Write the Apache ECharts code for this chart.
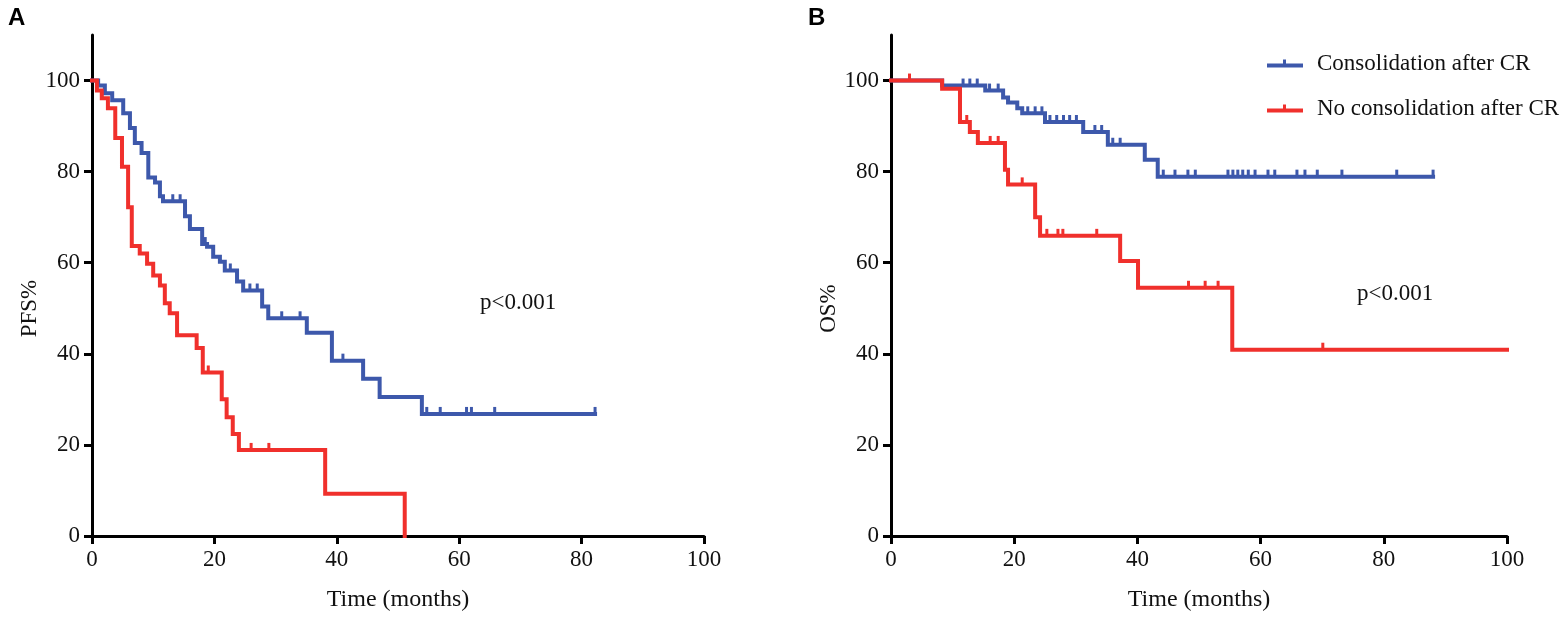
<!DOCTYPE html>
<html>
<head>
<meta charset="utf-8">
<script src="https://cdn.jsdelivr.net/npm/echarts@6/dist/echarts.min.js"></script>
<style>
html,body{margin:0;padding:0;background:#fff;}
#chart{width:1564px;height:617px;}
</style>
</head>
<body>
<div id="chart"></div>
<script>
// ---------- Data ----------
const seriesNames = ['Consolidation after CR', 'No consolidation after CR'];
const xTicks = [0, 20, 40, 60, 80, 100];
const yTicks = [0, 20, 40, 60, 80, 100];

// Panel A: PFS, consolidation after CR
const pfsConsTime = [0, 1, 2.1, 3.3, 5.1, 6.2, 7, 8.1, 9.2, 10.3, 11.1, 11.6, 15.2, 16, 18, 18.8, 19.8, 20.9, 21.7, 23.7, 24.7, 27.8, 28.8, 35.1, 39.2, 44.3, 47, 53.9, 82.2];
const pfsConsSurv = [100, 98.9, 97.2, 95.7, 92.8, 89.6, 86.3, 84.1, 78.7, 77.6, 74.6, 73.5, 70.2, 67.4, 64.1, 63.5, 61.3, 60.2, 58.3, 55.9, 53.9, 50.4, 47.8, 44.6, 38.5, 34.5, 30.5, 26.8, 26.8];
const pfsConsCensor = [13.2, 14.4, 18.5, 22.6, 25.8, 27, 31, 34, 41, 54.7, 56.9, 61.2, 62, 65.8, 82.2];

// Panel A: PFS, no consolidation after CR
const pfsNoTime = [0, 0.8, 1.6, 2.6, 3.8, 4.9, 5.9, 6.5, 7.8, 9, 10, 11.1, 11.9, 12.7, 13.9, 17.1, 18.1, 21.2, 22, 23, 24, 38.1, 51.1];
const pfsNoSurv = [100, 97.8, 96.1, 93.9, 87.4, 81.1, 72.2, 63.7, 62, 59.8, 57.2, 55, 51.1, 48.9, 44.1, 41.3, 35.9, 30, 26.1, 22.4, 18.9, 9.3, 0];
const pfsNoCensor = [19, 26, 28.9];

// Panel B: OS, consolidation after CR
const osConsTime = [0, 8.3, 15.3, 18.2, 19, 20.5, 21.3, 25, 31.2, 35.2, 41.2, 43.3, 88];
const osConsSurv = [100, 98.9, 97.8, 96.3, 95.2, 93.9, 92.8, 90.9, 88.7, 85.9, 82.6, 78.9, 78.9];
const osConsCensor = [11.7, 12.8, 14, 16, 17.4, 22.2, 23.4, 24.5, 25.8, 26.9, 28, 29, 30.1, 33.1, 34.2, 36, 37.2, 44.2, 46.1, 48.2, 49.4, 54.7, 55.5, 56.3, 57.1, 58, 59.1, 61.2, 62.3, 65.9, 67.2, 69.2, 73.2, 82.1, 88];

// Panel B: OS, no consolidation after CR
const osNoTime = [0, 8.3, 11.2, 12.8, 14.1, 18.5, 19, 23.4, 24.2, 37.2, 40.1, 55.4, 100];
const osNoSurv = [100, 98.2, 90.9, 88.7, 86.3, 80.4, 77.2, 70, 65.9, 60.4, 54.5, 40.9, 40.9];
const osNoCensor = [3, 12.3, 16.1, 17.4, 21.3, 25.3, 27.1, 27.9, 33.4, 48.3, 51, 53.1, 70.1];

// ---------- Helpers ----------
const BLUE = '#3d58ab';
const RED = '#f0302c';
const SERIF = '"Liberation Serif", "Times New Roman", serif';

function pairs(t, s) { return t.map((v, i) => [v, s[i]]); }
function levelAt(t, s, x) {
  let v = s[0];
  for (let i = 0; i < t.length; i++) { if (t[i] <= x) v = s[i]; }
  return v;
}
function censorPts(t, s, c) { return c.map(x => [x, levelAt(t, s, x)]); }

function xAxisCfg(gi) {
  return {
    gridIndex: gi, type: 'value', min: 0, max: 100, interval: 20,
    name: 'Time (months)', nameLocation: 'middle', nameGap: 52,
    nameTextStyle: { fontFamily: SERIF, fontSize: 24, color: '#111' },
    axisLine: { onZero: false, lineStyle: { color: '#000', width: 3 } },
    axisTick: { show: true, inside: false, length: 8, lineStyle: { color: '#000', width: 3 } },
    axisLabel: { fontFamily: SERIF, fontSize: 23, color: '#111', margin: 12 },
    splitLine: { show: false }
  };
}
function yAxisCfg(gi, name) {
  return {
    gridIndex: gi, type: 'value', min: 0, max: 110,
    name: name, nameLocation: 'middle', nameGap: 46, nameRotate: 90,
    nameTextStyle: { fontFamily: SERIF, fontSize: 23, color: '#111', padding: [0, 46, 0, 0] },
    axisLine: { onZero: false, lineStyle: { color: '#000', width: 3 } },
    axisTick: { show: true, inside: false, length: 8, customValues: yTicks, lineStyle: { color: '#000', width: 3 } },
    axisLabel: { fontFamily: SERIF, fontSize: 23, color: '#111', margin: 12, customValues: yTicks },
    splitLine: { show: false }
  };
}
function kmLine(name, gi, t, s, color) {
  return {
    name: name, type: 'line', xAxisIndex: gi, yAxisIndex: gi,
    step: 'end', data: pairs(t, s), showSymbol: false, symbol: 'none',
    lineStyle: { color: color, width: 4, cap: 'square', join: 'miter' },
    itemStyle: { color: color },
    z: 3
  };
}
function censors(name, gi, t, s, c, color) {
  return {
    name: name, type: 'scatter', xAxisIndex: gi, yAxisIndex: gi,
    data: censorPts(t, s, c), symbol: 'rect', symbolSize: [3, 7], symbolOffset: [0, -3.5],
    itemStyle: { color: color, opacity: 1 }, silent: true, z: 4
  };
}

const legendIcon = 'path://M0,5L36,5L36,9L0,9Z M16,1L19,1L19,5L16,5Z';

const option = {
  animation: false,
  backgroundColor: '#fff',
  grid: [
    { left: 92, top: 35, width: 612, height: 505 },
    { left: 891, top: 35, width: 616, height: 505 }
  ],
  xAxis: [xAxisCfg(0), xAxisCfg(1)],
  yAxis: [yAxisCfg(0, 'PFS%'), yAxisCfg(1, 'OS%')],
  legend: {
    orient: 'vertical', left: 1262, top: 45, itemWidth: 36, itemHeight: 9, itemGap: 18,
    selectedMode: false,
    textStyle: { fontFamily: SERIF, fontSize: 23, color: '#111', padding: [0, 0, 0, 9], lineHeight: 27 },
    data: seriesNames.map(n => ({ name: n, icon: legendIcon }))
  },
  graphic: [
    { type: 'text', left: 8, top: 6, style: { text: 'A', font: 'bold 24px "Liberation Sans", Arial, sans-serif', fill: '#000' } },
    { type: 'text', left: 808, top: 6, style: { text: 'B', font: 'bold 24px "Liberation Sans", Arial, sans-serif', fill: '#000' } },
    { type: 'text', x: 480, y: 303, style: { text: 'p<0.001', font: '23px ' + SERIF, fill: '#111', textVerticalAlign: 'middle' } },
    { type: 'text', x: 1357, y: 294, style: { text: 'p<0.001', font: '23px ' + SERIF, fill: '#111', textVerticalAlign: 'middle' } }
  ],
  series: [
    kmLine(seriesNames[0], 0, pfsConsTime, pfsConsSurv, BLUE),
    kmLine(seriesNames[1], 0, pfsNoTime, pfsNoSurv, RED),
    censors('pfsConsCensor', 0, pfsConsTime, pfsConsSurv, pfsConsCensor, BLUE),
    censors('pfsNoCensor', 0, pfsNoTime, pfsNoSurv, pfsNoCensor, RED),
    kmLine(seriesNames[0], 1, osConsTime, osConsSurv, BLUE),
    kmLine(seriesNames[1], 1, osNoTime, osNoSurv, RED),
    censors('osConsCensor', 1, osConsTime, osConsSurv, osConsCensor, BLUE),
    censors('osNoCensor', 1, osNoTime, osNoSurv, osNoCensor, RED)
  ]
};

const chart = echarts.init(document.getElementById('chart'), null, { renderer: 'canvas' });
chart.setOption(option);
</script>
</body>
</html>
